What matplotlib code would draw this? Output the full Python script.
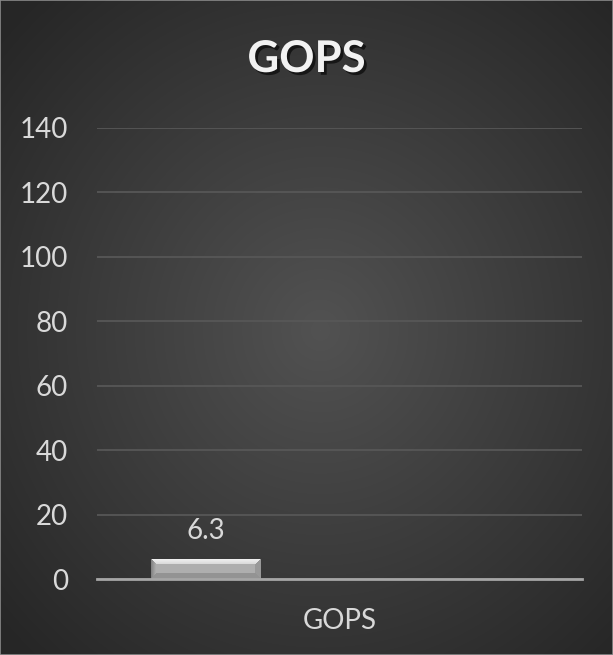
import matplotlib
matplotlib.use("Agg")
import matplotlib.pyplot as plt
import matplotlib.patheffects as pe
import numpy as np

# data
categories = ["GOPS"]
series_names = ["GOPS", "s2", "s3"]
series_values = [[6.3], [None], [None]]
y_ticks = [0, 20, 40, 60, 80, 100, 120, 140]

BG_CENTER = "#525252"
BG_EDGE = "#262626"
TEXT = "#d9d9d9"
GRID = "#575757"
FONT = "Lato"

plt.rcParams["font.family"] = [FONT, "DejaVu Sans"]


def bevel_image(nx, ny, bw):
    """Shading for a bevelled bar face: light top, darker sides and bottom."""
    jj, ii = np.meshgrid(np.arange(nx), np.arange(ny))
    d_top, d_bot = ii, ny - 1 - ii
    d_left, d_right = jj, nx - 1 - jj
    d = np.stack([d_top, d_bot, d_left, d_right])
    face = np.argmin(d, axis=0)
    inside = d.min(axis=0) >= bw
    shade = np.choose(face, [0.95 - 0.1 * ii / bw, 0.58, 0.5 + 0.2 * jj / bw, 0.6])
    shade = np.where(inside, 0.68, shade)
    return shade


fig = plt.figure(figsize=(6.13, 6.55), dpi=100)

# radial gradient background
bg = fig.add_axes([0, 0, 1, 1], zorder=-10)
yy, xx = np.mgrid[0:655, 0:613]
r = np.sqrt(((xx - 320) / 430.0) ** 2 + ((yy - 330) / 450.0) ** 2)
r = np.clip(r, 0, 1)
c0 = np.array(matplotlib.colors.to_rgb(BG_CENTER))
c1 = np.array(matplotlib.colors.to_rgb(BG_EDGE))
img = c0[None, None, :] * (1 - r[..., None]) + c1[None, None, :] * r[..., None]
bg.imshow(img, aspect="auto", extent=[0, 1, 0, 1])
bg.set_axis_off()
bg.add_patch(plt.Rectangle((0, 0), 1, 1, transform=bg.transAxes, fill=False,
                           edgecolor="#8a8a8a", linewidth=1.2))

ax = fig.add_axes([97 / 613, 76 / 655, 485 / 613, 451 / 655])
ax.set_facecolor("none")

n_series = len(series_names)
bar_w = 0.225
step = 0.276
x = np.arange(len(categories))
for i, vals in enumerate(series_values):
    offset = (i - (n_series - 1) / 2) * step
    for xi, v in zip(x, vals):
        if v is None:
            continue
        bars = ax.bar(xi + offset, v, width=bar_w, color="#a5a5a5", zorder=3)
        b = bars[0]
        x0, y0 = b.get_x(), b.get_y()
        x1, y1 = x0 + b.get_width(), y0 + b.get_height()
        im = ax.imshow(bevel_image(220, 40, 11), cmap="gray", vmin=0, vmax=1,
                       aspect="auto", extent=[x0, x1, y0, y1], zorder=4,
                       interpolation="nearest")
        im.set_clip_path(b)
        ax.text(b.get_x() + b.get_width() / 2, y1 + 4.5, f"{v:g}", ha="center",
                va="bottom", color=TEXT, fontsize=20, zorder=5)

ax.set_xlim(-0.5, len(categories) - 0.5)
ax.set_ylim(0, 140)
ax.set_yticks(y_ticks)
ax.set_xticks(x)
ax.set_xticklabels(categories)
ax.grid(axis="y", color=GRID, linewidth=1.3, zorder=0)
ax.set_axisbelow(True)
for s in ["top", "right", "left"]:
    ax.spines[s].set_visible(False)
ax.spines["bottom"].set_color("#a6a6a6")
ax.spines["bottom"].set_linewidth(2)
ax.spines["bottom"].set_zorder(6)
ax.tick_params(axis="both", length=0, colors=TEXT, labelsize=20)
ax.tick_params(axis="y", pad=21)
ax.tick_params(axis="x", pad=21)

fig.text(0.5, 1 - 59 / 655, "GOPS", ha="center", va="center", color="#f2f2f2",
         fontsize=31.5, fontweight="bold",
         path_effects=[pe.SimplePatchShadow(offset=(2, -2), shadow_rgbFace="black", alpha=0.6),
                       pe.Normal()])

fig.savefig("out.png", dpi=100, facecolor=BG_EDGE)
